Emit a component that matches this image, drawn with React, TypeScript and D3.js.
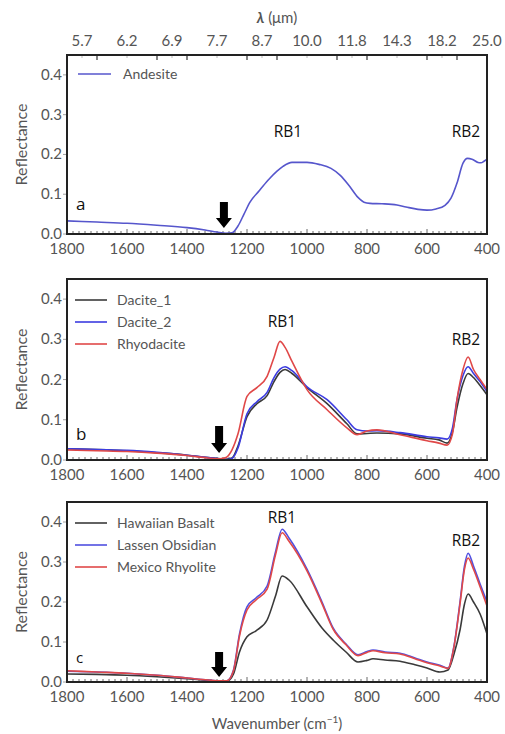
import React from 'react';
import * as d3 from 'd3';

// wavenumbers (cm-1), left to right on screen
const wnA = [1800, 1700, 1600, 1500, 1400, 1340, 1300, 1270, 1250, 1230, 1210, 1190, 1160, 1130, 1100, 1080, 1050, 1000, 960, 920, 890, 860, 830, 810, 790, 750, 700, 670, 630, 600, 570, 540, 520, 500, 480, 465, 450, 430, 420, 410, 400];
const andesite = [0.033, 0.030, 0.027, 0.022, 0.016, 0.010, 0.005, 0.002, 0.003, 0.020, 0.050, 0.080, 0.108, 0.135, 0.158, 0.170, 0.180, 0.180, 0.175, 0.165, 0.148, 0.122, 0.092, 0.080, 0.077, 0.076, 0.073, 0.068, 0.062, 0.060, 0.063, 0.072, 0.090, 0.128, 0.178, 0.190, 0.188, 0.180, 0.179, 0.183, 0.188];

const wnB = [1800, 1700, 1600, 1500, 1400, 1330, 1290, 1270, 1250, 1230, 1200, 1167, 1133, 1110, 1090, 1073, 1050, 1000, 933, 867, 833, 800, 767, 690, 600, 560, 533, 515, 500, 480, 463, 445, 423, 400];
const dacite1 = [0.028, 0.026, 0.023, 0.018, 0.012, 0.006, 0.003, 0.002, 0.005, 0.035, 0.108, 0.140, 0.160, 0.195, 0.218, 0.225, 0.215, 0.180, 0.140, 0.090, 0.065, 0.066, 0.067, 0.065, 0.054, 0.050, 0.042, 0.070, 0.130, 0.190, 0.215, 0.205, 0.185, 0.162];
const dacite2 = [0.028, 0.026, 0.024, 0.019, 0.012, 0.006, 0.003, 0.001, 0.004, 0.030, 0.115, 0.145, 0.168, 0.205, 0.226, 0.232, 0.222, 0.182, 0.150, 0.100, 0.075, 0.072, 0.073, 0.068, 0.058, 0.055, 0.052, 0.080, 0.150, 0.210, 0.232, 0.215, 0.195, 0.170];
const rhyodacite = [0.025, 0.023, 0.021, 0.017, 0.011, 0.005, 0.003, 0.006, 0.025, 0.065, 0.158, 0.180, 0.208, 0.255, 0.295, 0.280, 0.245, 0.175, 0.125, 0.080, 0.063, 0.072, 0.075, 0.063, 0.048, 0.042, 0.037, 0.065, 0.150, 0.225, 0.256, 0.225, 0.200, 0.175];

const wnC = [1800, 1700, 1600, 1500, 1400, 1330, 1290, 1267, 1245, 1225, 1200, 1170, 1133, 1105, 1083, 1060, 1000, 950, 913, 870, 830, 800, 780, 740, 690, 640, 600, 557, 530, 510, 490, 475, 463, 445, 423, 400];
const basalt = [0.020, 0.019, 0.017, 0.013, 0.008, 0.004, 0.002, 0.002, 0.020, 0.075, 0.113, 0.128, 0.155, 0.215, 0.265, 0.255, 0.188, 0.135, 0.105, 0.075, 0.050, 0.054, 0.058, 0.055, 0.052, 0.043, 0.035, 0.025, 0.030, 0.070, 0.130, 0.195, 0.220, 0.200, 0.170, 0.120];
const obsidian = [0.027, 0.025, 0.022, 0.017, 0.010, 0.005, 0.003, 0.003, 0.030, 0.120, 0.188, 0.210, 0.240, 0.325, 0.382, 0.360, 0.282, 0.200, 0.135, 0.095, 0.068, 0.076, 0.080, 0.075, 0.072, 0.060, 0.050, 0.042, 0.035, 0.090, 0.200, 0.290, 0.322, 0.290, 0.245, 0.200];
const rhyolite = [0.028, 0.025, 0.022, 0.017, 0.010, 0.005, 0.003, 0.003, 0.028, 0.115, 0.180, 0.205, 0.232, 0.318, 0.373, 0.352, 0.278, 0.196, 0.132, 0.093, 0.066, 0.074, 0.078, 0.073, 0.070, 0.058, 0.048, 0.040, 0.034, 0.088, 0.195, 0.282, 0.310, 0.282, 0.238, 0.190];

const xTicks = [1800, 1600, 1400, 1200, 1000, 800, 600, 400];
const yTicks = [0, 0.1, 0.2, 0.3, 0.4];
const topLabelWn = [1750, 1600, 1450, 1300, 1150, 1000, 850, 700, 550, 400];
const topLabels = ['5.7', '6.2', '6.9', '7.7', '8.7', '10.0', '11.8', '14.3', '18.2', '25.0'];
const topMajorWn = [1700, 1500, 1400, 1200, 1100, 900, 800, 600, 500];

const BLACK = '#3a3a3a';
const BLUE = '#3c3ce0';
const RED = '#e04848';
const ANDESITE = '#5656cc';

const panels = [
  {
    top: 55, bottom: 234, letter: 'a', letterY: 210, letterSize: 17,
    wn: wnA,
    series: [{ name: 'Andesite', values: andesite, color: ANDESITE }],
    legendX: 78, legendLineEnd: 111, legendTextX: 123, legendY: 74,
    rb1: { x: 288, y: 137 }, rb2: { x: 466, y: 137 },
    arrowWn: 1277, arrowTop: 202, arrowTip: 228,
  },
  {
    top: 279, bottom: 460, letter: 'b', letterY: 440, letterSize: 17,
    wn: wnB,
    series: [
      { name: 'Dacite_1', values: dacite1, color: BLACK },
      { name: 'Dacite_2', values: dacite2, color: BLUE },
      { name: 'Rhyodacite', values: rhyodacite, color: RED },
    ],
    legendX: 75, legendLineEnd: 107, legendTextX: 117, legendY: 300,
    rb1: { x: 282, y: 327 }, rb2: { x: 466, y: 345 },
    arrowWn: 1293, arrowTop: 426, arrowTip: 453,
  },
  {
    top: 502, bottom: 682, letter: 'c', letterY: 663, letterSize: 15,
    wn: wnC,
    series: [
      { name: 'Hawaiian Basalt', values: basalt, color: BLACK },
      { name: 'Lassen Obsidian', values: obsidian, color: '#5050e0' },
      { name: 'Mexico Rhyolite', values: rhyolite, color: RED },
    ],
    legendX: 75, legendLineEnd: 107, legendTextX: 117, legendY: 523,
    rb1: { x: 282, y: 523 }, rb2: { x: 466, y: 546 },
    arrowWn: 1293, arrowTop: 652, arrowTip: 677,
  },
];

const LEFT = 67;
const RIGHT = 487;
const tickFont = 'Lato, "Open Sans", sans-serif';
const noteFont = '"Open Sans", "Noto Sans", sans-serif';

function Panel({ p }: { p: any }) {
  const x = d3.scaleLinear().domain([1800, 400]).range([LEFT, RIGHT]);
  const y = d3.scaleLinear().domain([0, 0.45]).range([p.bottom, p.top]);
  const line = d3.line<number>()
    .x((_, i) => x(p.wn[i]))
    .y(d => y(d))
    .curve(d3.curveMonotoneX);
  const minor = d3.range(1800, 399, -20);
  const ax = x(p.arrowWn);
  const headY = p.arrowTip - 10;
  return (
    <g>
      <defs>
        <clipPath id={`clip-${p.letter}`}>
          <rect x={LEFT} y={p.top} width={RIGHT - LEFT} height={p.bottom - p.top} />
        </clipPath>
      </defs>
      {/* bottom ticks, inward */}
      {minor.map(t => (
        <line key={t} x1={x(t)} x2={x(t)} y1={p.bottom} y2={p.bottom - (t % 200 === 0 ? 5 : 3)} stroke="#444" strokeWidth={0.8} />
      ))}
      {xTicks.map(t => (
        <text key={t} x={x(t)} y={p.bottom + 20} textAnchor="middle" fontFamily={tickFont} fontSize={15} fill="#555">{t}</text>
      ))}
      {yTicks.map(t => (
        <g key={t}>
          <line x1={LEFT - 4} x2={LEFT} y1={y(t)} y2={y(t)} stroke="#888" strokeWidth={0.8} />
          <text x={LEFT - 5} y={y(t) + 5} textAnchor="end" fontFamily={tickFont} fontSize={15} fill="#555">{t.toFixed(1)}</text>
        </g>
      ))}
      <text transform={`translate(27,${(p.top + p.bottom) / 2}) rotate(-90)`} textAnchor="middle" fontFamily={tickFont} fontSize={16} fill="#555">Reflectance</text>
      <g clipPath={`url(#clip-${p.letter})`}>
        {p.series.map((s: any) => (
          <path key={s.name} d={line(s.values) || ''} fill="none" stroke={s.color} strokeWidth={1.6} />
        ))}
      </g>
      {/* legend */}
      {p.series.map((s: any, i: number) => (
        <g key={s.name}>
          <line x1={p.legendX} x2={p.legendLineEnd} y1={p.legendY + i * 22} y2={p.legendY + i * 22} stroke={s.color} strokeWidth={1.6} />
          <text x={p.legendTextX} y={p.legendY + i * 22 + 5} fontFamily={tickFont} fontSize={14} fill="#555">{s.name}</text>
        </g>
      ))}
      {/* annotations */}
      <text x={p.rb1.x} y={p.rb1.y} textAnchor="middle" fontFamily={noteFont} fontSize={15.5} fill="#111">RB1</text>
      <text x={p.rb2.x} y={p.rb2.y} textAnchor="middle" fontFamily={noteFont} fontSize={15.5} fill="#111">RB2</text>
      <text x={76} y={p.letterY} fontFamily={noteFont} fontSize={p.letterSize} fill="#111">{p.letter}</text>
      <path d={`M${ax - 4},${p.arrowTop} H${ax + 4} V${headY} H${ax + 8} L${ax},${p.arrowTip} L${ax - 8},${headY} H${ax - 4} Z`} fill="#000" />
      <rect x={LEFT} y={p.top} width={RIGHT - LEFT} height={p.bottom - p.top} fill="none" stroke="#222" strokeWidth={2} />
    </g>
  );
}

export default function App() {
  const x = d3.scaleLinear().domain([1800, 400]).range([LEFT, RIGHT]);
  const top = panels[0].top;
  return (
    <svg width={505} height={734} style={{ position: 'absolute', left: 0, top: 0, background: '#fff' }}>
      <rect width={505} height={734} fill="#fff" />
      {/* top wavelength axis */}
      <text x={277} y={23} textAnchor="middle" fontFamily={tickFont} fontSize={15} fill="#555">
        <tspan fontStyle="italic" fontWeight="bold">λ</tspan> (μm)
      </text>
      {topLabelWn.map((w, i) => (
        <g key={w}>
          <line x1={x(w)} x2={x(w)} y1={top} y2={top + 3} stroke="#aaa" strokeWidth={0.8} />
          <text x={x(w)} y={46} textAnchor="middle" fontFamily={tickFont} fontSize={15} fill="#555">{topLabels[i]}</text>
        </g>
      ))}
      {topMajorWn.map(w => (
        <line key={w} x1={x(w)} x2={x(w)} y1={top} y2={top + 5} stroke="#333" strokeWidth={1.2} />
      ))}
      {panels.map(p => <Panel key={p.letter} p={p} />)}
      <text x={277} y={729} textAnchor="middle" fontFamily={tickFont} fontSize={15} fill="#555">
        Wavenumber (cm<tspan dy={-6} fontSize={10}>−1</tspan><tspan dy={6}>)</tspan>
      </text>
    </svg>
  );
}
